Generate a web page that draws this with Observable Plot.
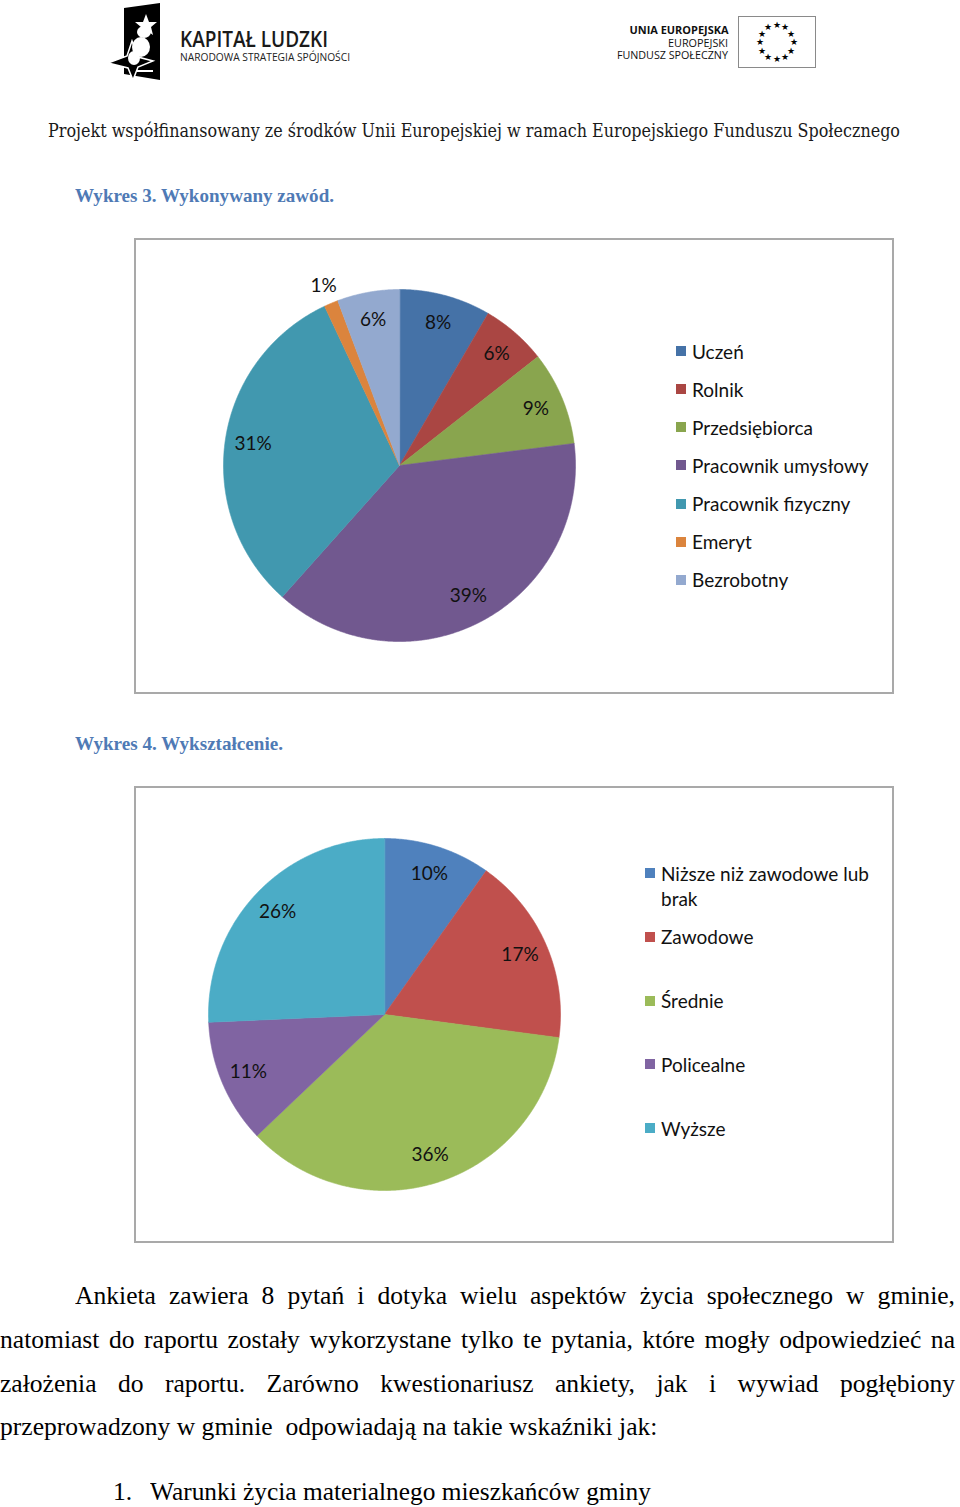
<!DOCTYPE html>
<html><head><meta charset="utf-8">
<script src="https://cdn.jsdelivr.net/npm/d3@7"></script>
<script src="https://cdn.jsdelivr.net/npm/@observablehq/plot@0.6"></script>
<style>
html,body{margin:0;padding:0;background:#fff;}
#page{position:relative;width:960px;height:1507px;overflow:hidden;background:#fff;}
.abs{position:absolute;white-space:nowrap;transform-origin:0 50%;}
.frame{position:absolute;box-sizing:border-box;border:2px solid #a9a9a9;}
.sq{position:absolute;width:10px;height:10px;}
.leg{position:absolute;font-family:Lato,"Open Sans",sans-serif;font-size:19px;color:#111;line-height:25px;}
</style></head>
<body><div id="page"></div>
<script>
// ---------- data ----------
const jobs = ["Uczeń","Rolnik","Przedsiębiorca","Pracownik umysłowy","Pracownik fizyczny","Emeryt","Bezrobotny"];
const jobShares = [8.4, 6.0, 8.6, 38.6, 31.4, 1.3, 5.7];
const jobColors = ["#4572A7","#AA4643","#89A54E","#71588F","#4198AF","#DB843D","#93A9CF"];

const eduLevels = ["Niższe niż zawodowe lub brak","Zawodowe","Średnie","Policealne","Wyższe"];
const eduShares = [9.8, 17.3, 35.8, 11.4, 25.7];
const eduColors = ["#4F81BD","#C0504D","#9BBB59","#8064A2","#4BACC6"];

const headerText = "Projekt współfinansowany ze środków Unii Europejskiej w ramach Europejskiego Funduszu Społecznego";
const title3 = "Wykres 3. Wykonywany zawód.";
const title4 = "Wykres 4. Wykształcenie.";
const bodyLines = [
  "Ankieta zawiera 8 pytań i dotyka wielu aspektów życia społecznego w gminie,",
  "natomiast do raportu zostały wykorzystane tylko te pytania, które mogły odpowiedzieć na",
  "założenia do raportu. Zarówno kwestionariusz ankiety, jak i wywiad pogłębiony",
  "przeprowadzony w gminie  odpowiadają na takie wskaźniki jak:"
];
const listItem = "Warunki życia materialnego mieszkańców gminy";

// ---------- helpers ----------
const page = document.getElementById("page");
function place(text, o) {
  const d = document.createElement("div");
  d.className = "abs";
  d.textContent = text;
  const lh = o.size * (o.lh || 1.3);
  Object.assign(d.style, {
    left: o.x + "px", top: (o.y - lh / 2) + "px", lineHeight: lh + "px",
    fontFamily: o.family || "'Liberation Serif', 'Times New Roman', serif", fontSize: o.size + "px",
    fontWeight: o.weight || "normal", color: o.color || "#000"
  });
  if (o.right) { d.style.left = "auto"; d.style.right = (960 - o.right) + "px"; d.style.transformOrigin = "100% 50%"; }
  page.appendChild(d);
  if (o.w) {
    const wd = d.getBoundingClientRect().width;
    d.style.transform = `scaleX(${o.w / wd})`;
  }
  return d;
}

function pie({names, values, colors, left, top, width, height, cx, cy, r}) {
  const arcs = d3.pie().sort(null).value(d => d.value)(names.map((n, i) => ({name: n, value: values[i]})));
  const pts = [];
  const labels = [];
  for (const a of arcs) {
    const nm = a.data.name;
    pts.push({name: nm, x: 0, y: 0});
    const n = Math.max(4, Math.ceil((a.endAngle - a.startAngle) / 0.005));
    for (let k = 0; k <= n; k++) {
      const t = a.startAngle + (a.endAngle - a.startAngle) * k / n;
      pts.push({name: nm, x: Math.sin(t), y: Math.cos(t)});
    }
    const m = (a.startAngle + a.endAngle) / 2;
    const lr = a.data.value < 3 ? 1.11 : 0.84;
    labels.push({x: lr * Math.sin(m), y: lr * Math.cos(m), text: Math.round(a.data.value) + "%"});
  }
  const svg = Plot.plot({
    width, height, margin: 0,
    style: {background: "transparent", overflow: "visible"},
    x: {domain: [-1, 1], range: [cx - r, cx + r], axis: null},
    y: {domain: [-1, 1], range: [cy + r, cy - r], axis: null},
    color: {domain: names, range: colors},
    marks: [
      Plot.line(pts, {x: "x", y: "y", z: "name", fill: "name", stroke: "name", strokeWidth: 0.6, curve: "linear-closed"}),
      Plot.text(labels, {x: "x", y: "y", text: "text", fontSize: 19, fontFamily: "Lato, 'Open Sans', sans-serif", fill: "#111"})
    ]
  });
  svg.style.position = "absolute";
  svg.style.left = left + "px";
  svg.style.top = top + "px";
  page.appendChild(svg);
}

function frame(x0, y0, x1, y1) {
  const f = document.createElement("div");
  f.className = "frame";
  Object.assign(f.style, {left: x0 + "px", top: y0 + "px", width: (x1 - x0) + "px", height: (y1 - y0) + "px"});
  page.appendChild(f);
}

function legend(names, colors, sqX, txtX, y0, step, textW) {
  names.forEach((n, i) => {
    const y = y0 + i * step;
    const s = document.createElement("div");
    s.className = "sq";
    Object.assign(s.style, {left: sqX + "px", top: (y - 5) + "px", background: colors[i]});
    page.appendChild(s);
    const t = document.createElement("div");
    t.className = "leg";
    t.textContent = n;
    Object.assign(t.style, {left: txtX + "px", top: (y - 12.5) + "px", width: textW + "px"});
    page.appendChild(t);
  });
}

// ---------- logos ----------
page.insertAdjacentHTML("beforeend", `
<svg style="position:absolute;left:0;top:0" width="960" height="90">
  <polygon points="124,8 160,3 160,80 124,74" fill="#000"/>
  <polygon points="108,63 127,56 132,41 138,57 153,61 138,67 133,80 128,68" fill="#000" stroke="#fff" stroke-width="1.5"/>
  <polygon points="146,14 149,22 157,22 151,27 153,35 146,30 139,35 141,27 135,22 143,22" fill="#fff"/>
  <ellipse cx="144" cy="32" rx="7" ry="6" fill="#fff"/>
  <ellipse cx="141" cy="47" rx="9" ry="10" fill="#fff"/>
  <ellipse cx="134" cy="58" rx="6" ry="7" fill="#fff"/>
  <rect x="137" y="70" width="16" height="2" fill="#fff"/>
  <rect x="738.5" y="16.5" width="77" height="51" fill="#fff" stroke="#8a8a8a"/>
  ${d3.range(12).map(i => {const a = i * Math.PI / 6; const x = 776.5 + 17 * Math.sin(a), y = 41.5 - 17 * Math.cos(a);
      return `<text x="${x}" y="${y + 3.5}" font-size="9" text-anchor="middle" fill="#000">★</text>`;}).join("")}
</svg>`);
place("KAPITAŁ LUDZKI", {x: 180, y: 39, size: 21, lh: 1.0, family: "'Open Sans'", weight: 600, color: "#1a1a1a", w: 148});
place("NARODOWA STRATEGIA SPÓJNOŚCI", {x: 180, y: 57, size: 10, lh: 1.0, family: "'Open Sans'", color: "#222", w: 170});
place("UNIA EUROPEJSKA", {right: 728, y: 29, size: 11, lh: 1.0, family: "'Open Sans'", weight: "bold", color: "#111", w: 99});
place("EUROPEJSKI", {right: 728, y: 42, size: 11, lh: 1.0, family: "'Open Sans'", color: "#111", w: 60});
place("FUNDUSZ SPOŁECZNY", {right: 728, y: 54, size: 11, lh: 1.0, family: "'Open Sans'", color: "#111", w: 111});

// ---------- header & titles ----------
place(headerText, {x: 48, y: 130, size: 19, family: "'DejaVu Serif'", color: "#1a1a1a", w: 852});
place(title3, {x: 75, y: 196, size: 19, weight: "bold", color: "#4f7ab5", w: 259});
place(title4, {x: 75, y: 744, size: 19, weight: "bold", color: "#4f7ab5", w: 208});

// ---------- chart 3 ----------
frame(134, 238, 894, 694);
pie({names: jobs, values: jobShares, colors: jobColors, left: 136, top: 240, width: 756, height: 452, cx: 399 - 136, cy: 465 - 240, r: 176});
legend(jobs, jobColors, 676, 692, 351, 38.15, 205);

// ---------- chart 4 ----------
frame(134, 786, 894, 1243);
pie({names: eduLevels, values: eduShares, colors: eduColors, left: 136, top: 788, width: 756, height: 453, cx: 384 - 136, cy: 1014 - 788, r: 176});
legend(eduLevels, eduColors, 645, 661, 873, 63.75, 228);

// ---------- body text ----------
(function () {
  const size = 26;
  const fam = "'Liberation Serif', 'Times New Roman', serif";
  const probe = place(bodyLines[3], {x: 0, y: -100, size, family: fam});
  const nat = probe.getBoundingClientRect().width;
  probe.remove();
  const s = 651 / nat;
  const ys = [1296, 1340, 1384, 1427];
  const xs = [75, 0, 0, 0];
  bodyLines.forEach((line, i) => {
    const d = document.createElement("div");
    d.textContent = line;
    const lh = 32;
    Object.assign(d.style, {
      position: "absolute", left: xs[i] + "px", top: (ys[i] - lh / 2) + "px", lineHeight: lh + "px",
      fontFamily: fam, fontSize: size + "px", color: "#000",
      transformOrigin: "0 50%", transform: `scaleX(${s})`, whiteSpace: "pre"
    });
    if (i < 3) {
      d.style.width = ((955 - xs[i]) / s) + "px";
      d.style.textAlign = "justify";
      d.style.textAlignLast = "justify";
      d.style.whiteSpace = "normal";
    }
    page.appendChild(d);
  });
  place("1.", {x: 113, y: 1492, size, family: fam}).style.transform = `scaleX(${s})`;
  place(listItem, {x: 150, y: 1492, size, family: fam, w: 501});
})();
</script>
</body></html>
